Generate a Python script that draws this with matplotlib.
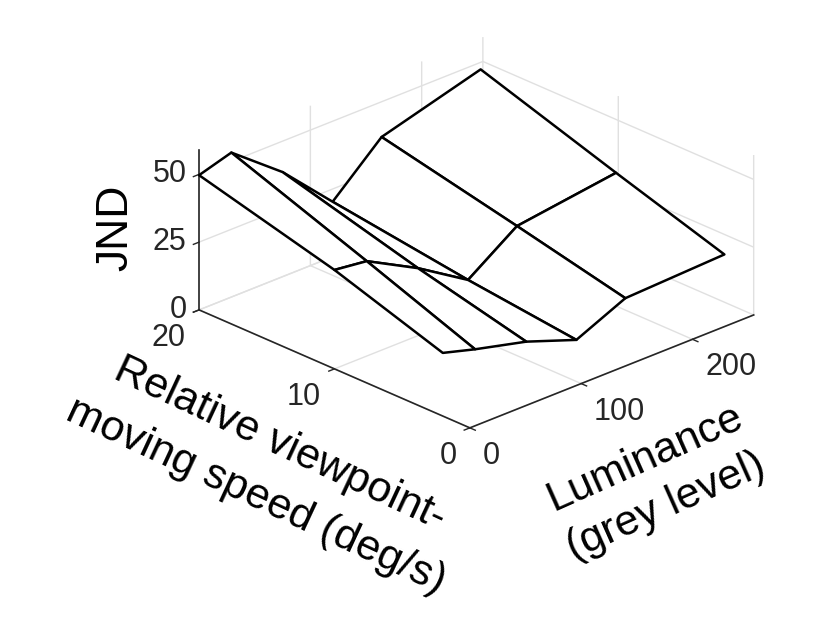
import matplotlib
matplotlib.use('Agg')
import matplotlib.pyplot as plt
import numpy as np
from mpl_toolkits.mplot3d import Axes3D  # noqa: F401

plt.rcParams['font.family'] = ['Liberation Sans', 'DejaVu Sans']

# JND
luminance = [0, 29, 75, 120, 164, 253]
speed = [2, 10, 20]
jnd_s2 = [23.3, 19.9, 15.2, 8.5, 16.7, 18.3]
jnd_s10 = [36.5, 35, 24.9, 13.2, 25.9, 31]
jnd_s20 = [49.7, 53.3, 38.6, 20.3, 37, 47.4]

x_ticks = [0, 100, 200]
y_ticks = [0, 10, 20]
z_ticks = [0, 25, 50]

AXIS = '#262626'
GRID = '#e0e0e0'

fig = plt.figure(figsize=(8.3, 6.42), dpi=100, facecolor='white')
ax = fig.add_axes([0.0635, 0.1244, 1, 1], projection='3d', proj_type='ortho')
ax.view_init(elev=24.6, azim=-133.7)
ax.set_box_aspect((392.8, 392.2, 176), zoom=0.880)

L, S = np.meshgrid(luminance, speed)
Z = np.array([jnd_s2, jnd_s10, jnd_s20])
ax.plot_surface(L, S, Z, color='white', edgecolor='black', linewidth=1.8,
                shade=False, antialiased=True, rstride=1, cstride=1)

ax.set_xlim(0, 255)
ax.set_ylim(0, 20)
ax.set_zlim(0, 59)
ax.set_xticks(x_ticks)
ax.set_yticks(y_ticks)
ax.set_zticks(z_ticks)

for axis in (ax.xaxis, ax.yaxis, ax.zaxis):
    axis.set_pane_color((1, 1, 1, 1))
    axis.pane.set_edgecolor('white')
    axis.line.set_color(AXIS)
    axis.line.set_linewidth(1.2)
    axis._axinfo['grid']['color'] = GRID
    axis._axinfo['grid']['linewidth'] = 1.0
    axis._axinfo['tick']['inward_factor'] = 0.25
    axis._axinfo['tick']['outward_factor'] = 0.0
    axis._axinfo['tick']['linewidth'] = {True: 1.0, False: 0.5}
    axis.set_tick_params(labelsize=22, labelcolor=AXIS, color=AXIS, pad=3.3)
ax.zaxis.set_tick_params(pad=-2.5)

# MATLAB anchors the tick labels by their edge, not their centre
for t in ax.get_xticklabels():
    t.set_ha('left')
for t in ax.get_yticklabels():
    t.set_ha('right')
for t in ax.get_zticklabels():
    t.set_ha('right')
    t.set_va('center')

fig.text(0.139, 0.645, 'JND', fontsize=32, rotation=90, ha='center', va='center')
fig.text(0.323, 0.268, 'Relative viewpoint-\nmoving speed (deg/s)', fontsize=31,
         rotation=-25, ha='center', va='center', linespacing=1.55)
fig.text(0.79, 0.249, 'Luminance\n(grey level)', fontsize=31,
         rotation=24, ha='center', va='center', linespacing=1.4)

fig.savefig('out.png', dpi=100, facecolor='white')
